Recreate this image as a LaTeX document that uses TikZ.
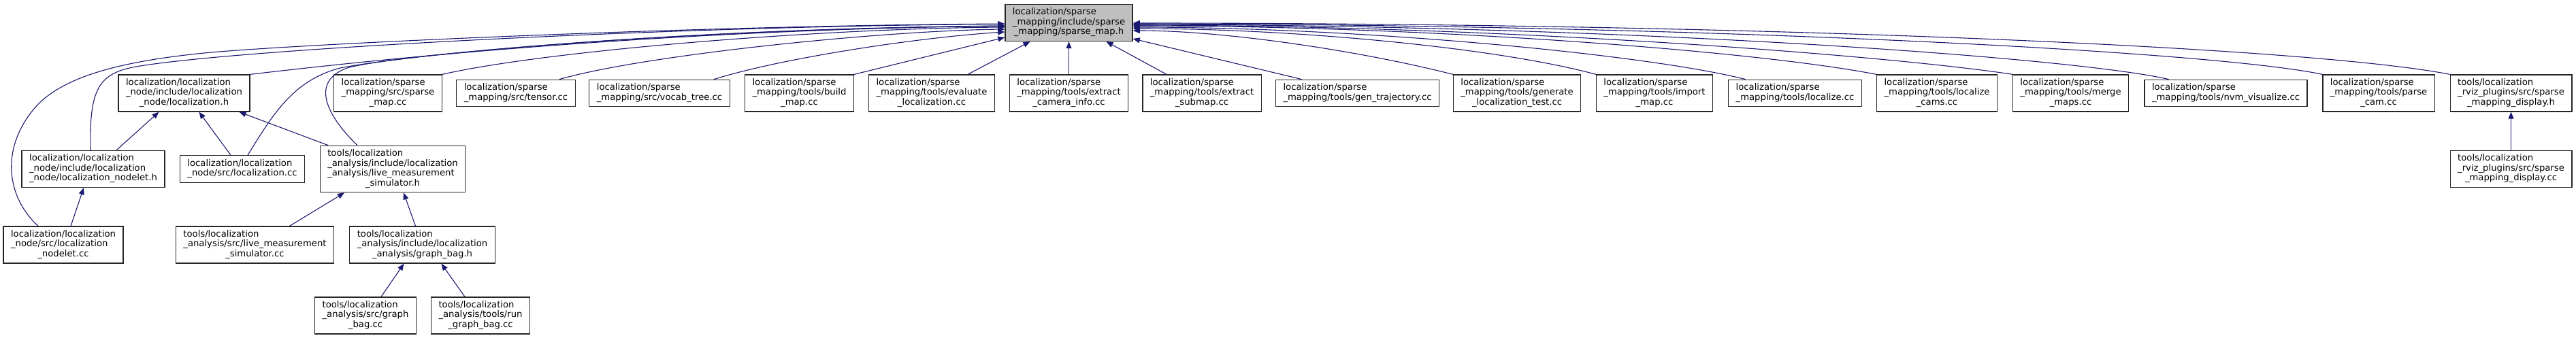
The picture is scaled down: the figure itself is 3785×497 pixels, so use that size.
\documentclass[tikz,border=0pt]{standalone}
\usepackage{fontspec}
\setmainfont{DejaVu Sans}
\usetikzlibrary{arrows.meta,calc}
\definecolor{depblue}{HTML}{191970}
\definecolor{maingray}{HTML}{BFBFBF}
% first lines left, last line centred
\newcommand{\flines}[2]{\begin{tabular}{@{}l@{}}#1\\\multicolumn{1}{@{}c@{}}{#2}\end{tabular}}
\begin{document}
\begin{tikzpicture}[x=1pt, y=-1pt, >={Triangle[length=10pt,width=8pt]},
  file/.style={draw=black!85, line width=1.3pt, fill=white, inner xsep=11pt, inner ysep=5.25pt,
    font=\fontsize{13.2}{14.5}\selectfont},
  dep/.style={->, color=depblue, line width=1.1pt}]
\useasboundingbox (0,0) rectangle (3785,497);
% the included header
\node[file, fill=maingray] (smap) at (1570.5,33.5) {\flines{localization/sparse\\\_mapping/include/sparse}{\_mapping/sparse\_map.h}};
% second row
\node[file] (lnode_h) at (270.5,137) {\flines{localization/localization\\\_node/include/localization}{\_node/localization.h}};
\node[file] (smap_cc) at (570,137) {\flines{localization/sparse\\\_mapping/src/sparse}{\_map.cc}};
\node[file] (tensor) at (758,137) {\flines{localization/sparse}{\_mapping/src/tensor.cc}};
\node[file] (vocab) at (969,137) {\flines{localization/sparse}{\_mapping/src/vocab\_tree.cc}};
\node[file] (build) at (1174.5,137) {\flines{localization/sparse\\\_mapping/tools/build}{\_map.cc}};
\node[file] (evaluate) at (1369,137) {\flines{localization/sparse\\\_mapping/tools/evaluate}{\_localization.cc}};
\node[file] (xcam) at (1570.5,137) {\flines{localization/sparse\\\_mapping/tools/extract}{\_camera\_info.cc}};
\node[file] (xsub) at (1766,137) {\flines{localization/sparse\\\_mapping/tools/extract}{\_submap.cc}};
\node[file] (gen) at (1994.5,137) {\flines{localization/sparse}{\_mapping/tools/gen\_trajectory.cc}};
\node[file] (gentest) at (2229,137) {\flines{localization/sparse\\\_mapping/tools/generate}{\_localization\_test.cc}};
\node[file] (import) at (2431,137) {\flines{localization/sparse\\\_mapping/tools/import}{\_map.cc}};
\node[file] (localize) at (2637.5,137) {\flines{localization/sparse}{\_mapping/tools/localize.cc}};
\node[file] (lcams) at (2846,137) {\flines{localization/sparse\\\_mapping/tools/localize}{\_cams.cc}};
\node[file] (merge) at (3042.5,137) {\flines{localization/sparse\\\_mapping/tools/merge}{\_maps.cc}};
\node[file] (nvm) at (3270.5,137) {\flines{localization/sparse}{\_mapping/tools/nvm\_visualize.cc}};
\node[file] (parse) at (3495,137) {\flines{localization/sparse\\\_mapping/tools/parse}{\_cam.cc}};
\node[file] (disp_h) at (3689.5,137) {\flines{tools/localization\\\_rviz\_plugins/src/sparse}{\_mapping\_display.h}};
% third row
\node[file] (nodelet_h) at (137,248.5) {\flines{localization/localization\\\_node/include/localization}{\_node/localization\_nodelet.h}};
\node[file] (loc_cc) at (356,248.5) {\flines{localization/localization}{\_node/src/localization.cc}};
\node[file] (live_h) at (577,248.5) {\flines{tools/localization\\\_analysis/include/localization\\\_analysis/live\_measurement}{\_simulator.h}};
\node[file] (disp_cc) at (3689.5,248.5) {\flines{tools/localization\\\_rviz\_plugins/src/sparse}{\_mapping\_display.cc}};
% fourth and fifth rows
\node[file] (nodelet_cc) at (93,360) {\flines{localization/localization\\\_node/src/localization}{\_nodelet.cc}};
\node[file] (live_cc) at (374.5,360) {\flines{tools/localization\\\_analysis/src/live\_measurement}{\_simulator.cc}};
\node[file] (gbag_h) at (620.5,360) {\flines{tools/localization\\\_analysis/include/localization}{\_analysis/graph\_bag.h}};
\node[file] (gbag_cc) at (537,464) {\flines{tools/localization\\\_analysis/src/graph}{\_bag.cc}};
\node[file] (run_gbag) at (706,464) {\flines{tools/localization\\\_analysis/tools/run}{\_graph\_bag.cc}};

% includes of sparse_map.h, left side
\draw[dep] ($(nodelet_cc.north)+(-37,0)$) .. controls (10,290) and (0,220) .. (50,160)
  .. controls (90,112) and (180,90) .. (300,78) .. controls (420,66) and (1000,38) .. ($(smap.west)+(0,1.5)$);
\draw[dep] ($(nodelet_h.north)+(-4,0)$) .. controls (131,130) and (145,108) .. (200,98)
  .. controls (350,72) and (1000,38) .. ($(smap.west)+(0,2)$);
\draw[dep] (lnode_h.north east) .. controls (450,100) and (900,45) .. ($(smap.west)+(0,4.5)$);
\draw[dep] ($(loc_cc.north)+(8,0)$) .. controls (400,170) and (430,118) .. (500,100)
  .. controls (600,80) and (1000,42) .. ($(smap.west)+(0,4.5)$);
\draw[dep] ($(live_h.north)+(-52,0)$) .. controls (480,170) and (455,120) .. (510,100)
  .. controls (570,82) and (1000,42) .. ($(smap.west)+(0,5)$);
\draw[dep] (smap_cc.north east) .. controls (800,75) and (1200,42) .. ($(smap.west)+(0,6.5)$);
\draw[dep] ($(tensor.north)+(64,0)$) .. controls (950,80) and (1300,45) .. ($(smap.west)+(0,9.5)$);
\draw[dep] ($(vocab.north)+(80,0)$) .. controls (1150,85) and (1350,55) .. ($(smap.west)+(0,13.5)$);
\draw[dep] (build.north east) -- ($(smap.west)+(0,21.5)$);
% from below
\draw[dep] ($(evaluate.north)+(53,0)$) -- ($(smap.south)+(-57,0)$);
\draw[dep] (xcam.north) -- (smap.south);
\draw[dep] ($(xsub.north)+(-52,0)$) -- ($(smap.south)+(55,0)$);
% right side
\draw[dep] ($(gen.north)+(-82,0)$) -- ($(smap.east)+(0,23.5)$);
\draw[dep] (gentest.north west) .. controls (2000,75) and (1800,45) .. ($(smap.east)+(0,11.5)$);
\draw[dep] (import.north west) .. controls (2200,70) and (1900,42) .. ($(smap.east)+(0,8.5)$);
\draw[dep] ($(localize.north)+(-73,0)$) .. controls (2420,80) and (2000,40) .. ($(smap.east)+(0,6.5)$);
\draw[dep] (lcams.north west) .. controls (2580,75) and (2100,38) .. ($(smap.east)+(0,4.5)$);
\draw[dep] (merge.north west) .. controls (2800,85) and (2250,38) .. ($(smap.east)+(0,3.5)$);
\draw[dep] ($(nvm.north)+(-84,0)$) .. controls (3050,85) and (2400,37) .. ($(smap.east)+(0,2.5)$);
\draw[dep] (parse.north west) .. controls (3250,75) and (2500,36) .. ($(smap.east)+(0,1.5)$);
\draw[dep] (disp_h.north west) .. controls (3400,70) and (2600,34) .. ($(smap.east)+(0,0.5)$);

% the other includes
\draw[dep] ($(nodelet_h.north)+(34,0)$) -- ($(lnode_h.south)+(-37,0)$);
\draw[dep] ($(loc_cc.north)+(-17,0)$) -- ($(lnode_h.south)+(22,0)$);
\draw[dep] ($(live_h.north)+(-95,0)$) -- ($(lnode_h.south)+(81,0)$);
\draw[dep] ($(nodelet_cc.north)+(11,0)$) -- ($(nodelet_h.south)+(-14,0)$);
\draw[dep] ($(live_cc.north)+(51,0)$) -- ($(live_h.south)+(-71,0)$);
\draw[dep] ($(gbag_h.north)+(-10,0)$) -- ($(live_h.south)+(16,0)$);
\draw[dep] ($(gbag_cc.north)+(23,0)$) -- ($(gbag_h.south)+(-27,0)$);
\draw[dep] ($(run_gbag.north)+(-23,0)$) -- ($(gbag_h.south)+(28,0)$);
\draw[dep] (disp_cc.north) -- (disp_h.south);
\end{tikzpicture}
\end{document}
